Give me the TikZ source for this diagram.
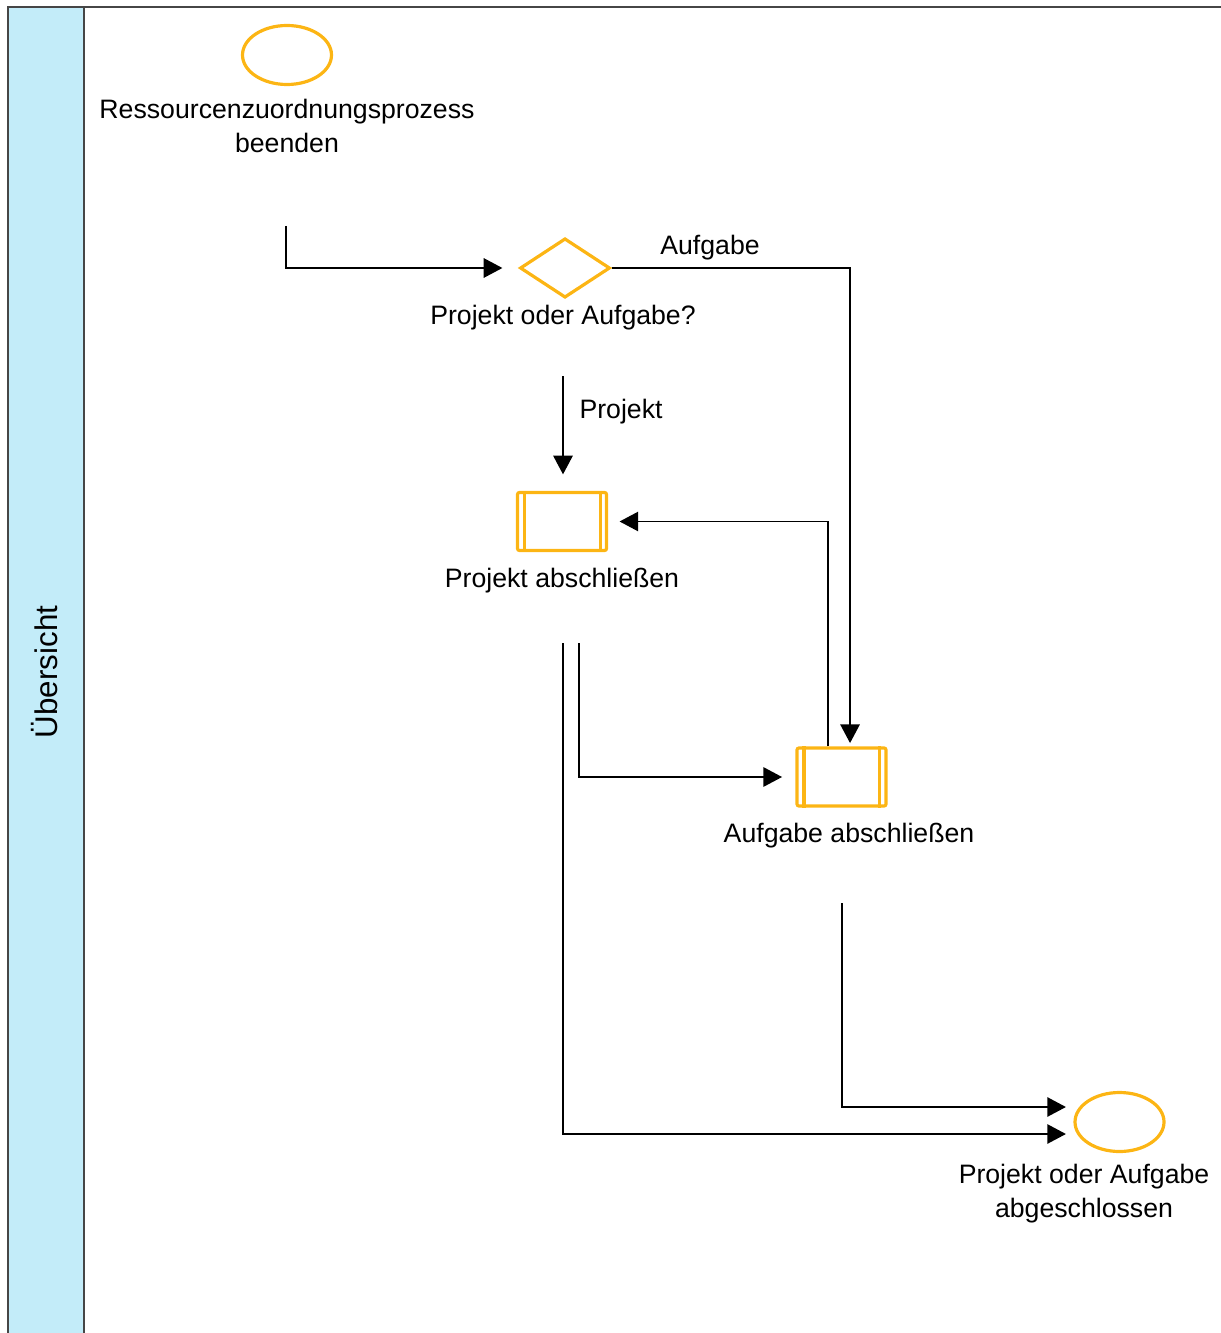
\documentclass[tikz,border=0pt]{standalone}
\usepackage{fontspec}
\setmainfont{Liberation Sans}
\usetikzlibrary{shapes.geometric,arrows.meta,calc}
\definecolor{bpmnorange}{RGB}{252,181,20}
\definecolor{lanefill}{RGB}{195,236,249}
\definecolor{laneline}{RGB}{70,70,70}

\begin{document}
\begin{tikzpicture}[x=0.75pt,y=-0.75pt,
  event/.style={ellipse,draw=bpmnorange,line width=2.4pt,minimum width=66.75pt,minimum height=44.25pt,inner sep=0pt},
  gateway/.style={diamond,draw=bpmnorange,line width=2.4pt,minimum width=67.5pt,minimum height=44.5pt,inner sep=0pt},
  task/.style={rectangle,rounded corners=1.5pt,draw=bpmnorange,line width=2.4pt,minimum width=66.75pt,minimum height=43.5pt,inner sep=0pt},
  lbl/.style={font=\fontsize{20}{25.5}\selectfont,align=center,inner sep=0pt},
  flow/.style={line width=1.4pt,-{Triangle[length=14pt,width=14.5pt]}},
  lane/.style={draw=laneline,line width=1.5pt}
]
\useasboundingbox (0,0) rectangle (1220,1333);

% swimlane
\fill[lanefill] (8,7) rectangle (84,1340);
\draw[lane] (8,1340) -- (8,7) -- (1222,7);
\draw[lane] (84,7) -- (84,1340);
\node[lbl,font=\fontsize{23.5}{28}\selectfont,rotate=90] (lanetitle) at (45,672) {Übersicht};

% flow objects
\node[event] (start) at (287,55) {};
\node[lbl] (startlbl) at (287,126) {Ressourcenzuordnungsprozess\\beenden};

\node[gateway] (gw) at (565,268) {};
\node[lbl] (gwlbl) at (563,318) {Projekt oder Aufgabe?};

\node[task] (tp) at (562,521.5) {};
\node[lbl] (tplbl) at (562,581) {Projekt abschließen};

\node[task] (ta) at (841.5,777) {};
\node[lbl] (talbl) at (849,836) {Aufgabe abschließen};

\node[event] (end) at (1119.5,1122) {};
\node[lbl] (endlbl) at (1084,1194) {Projekt oder Aufgabe\\abgeschlossen};

% task side bars
\foreach \t in {tp,ta}{
  \draw[bpmnorange,line width=2.4pt] ([xshift=6.5pt]\t.north west) -- ([xshift=6.5pt]\t.south west);
  \draw[bpmnorange,line width=2.4pt] ([xshift=-6pt]\t.north east) -- ([xshift=-6pt]\t.south east);
}

% free ends of the sequence flows
\coordinate (c1) at (286,226);
\coordinate (c2) at (563,376);
\coordinate (c3) at (579,643);
\coordinate (c4) at (563,643);
\coordinate (c5) at (842,903);

% sequence flows
\draw[flow,shorten >=12pt] (c1) |- (gw.west);
\draw[flow,shorten >=2.5pt] (gw.east) -| ([xshift=6.4pt]ta.north);
\node[lbl] (auflbl) at (710,248) {Aufgabe};
\draw[flow,shorten >=12.4pt] (c2) -- (c2 |- tp.north);
\node[lbl] (projlbl) at (621,412) {Projekt};
\draw[flow,shorten >=8.6pt] ([xshift=-10.1pt]ta.north) |- (tp.east);
\draw[flow,shorten >=10pt] (c3) |- (ta.west);
\draw[flow,shorten >=5.6pt] (c5) |- ([yshift=11.25pt]end.west);
\draw[flow,shorten >=5.6pt] (c4) |- ([yshift=-9pt]end.west);
\end{tikzpicture}
\end{document}
